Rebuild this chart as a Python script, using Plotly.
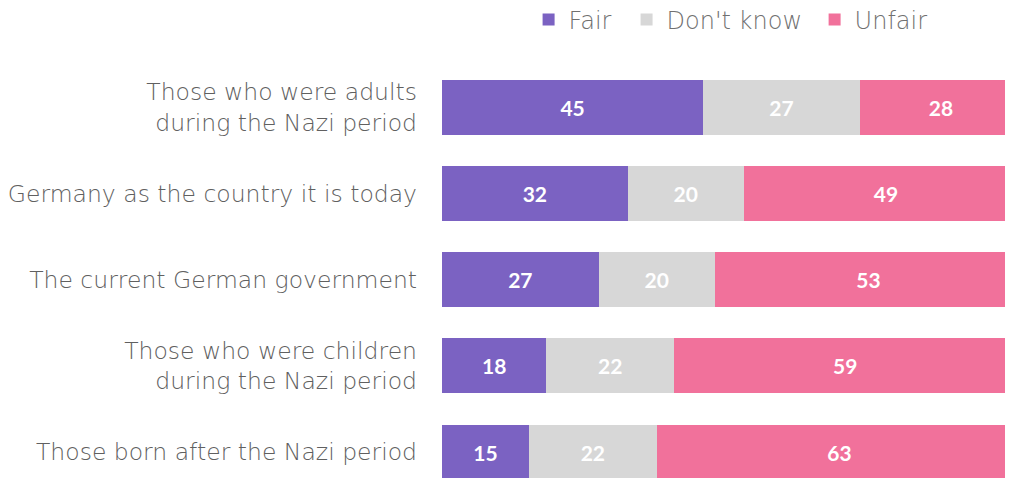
import plotly.graph_objects as go

categories = [
    "Those who were adults<br>during the Nazi period",
    "Germany as the country it is today",
    "The current German government",
    "Those who were children<br>during the Nazi period",
    "Those born after the Nazi period",
]
fair = [45, 32, 27, 18, 15]
dont_know = [27, 20, 20, 22, 22]
unfair = [28, 49, 53, 59, 63]

series = [
    ("Fair", fair, "#7B62C2", "legend", 0.518),
    ("Don't know", dont_know, "#D7D7D7", "legend2", 0.6155),
    ("Unfair", unfair, "#F1719B", "legend3", 0.8026),
]

LABEL_FONT = "DejaVu Sans"
W, H = 1005, 470

fig = go.Figure()
legends = {}
for name, vals, color, leg, lx in series:
    fig.add_trace(go.Bar(
        y=categories, x=vals, name=name, orientation="h",
        marker=dict(color=color, line=dict(width=0)),
        text=vals, textposition="inside", insidetextanchor="middle",
        textfont=dict(family="Lato", size=21, color="white", weight="bold"),
        constraintext="none", legend=leg,
    ))
    legends[leg] = dict(
        orientation="h", xref="container", yref="container",
        x=lx, xanchor="left", y=1 - 12 / H, yanchor="middle",
        font=dict(family=LABEL_FONT, size=24, color="#707070", weight=200),
        itemclick=False, bgcolor="rgba(0,0,0,0)",
    )

plot_h = H - 56
fig.update_layout(
    width=W, height=H,
    barmode="stack", bargap=0.36,
    margin=dict(l=434, r=0, t=56, b=0),
    paper_bgcolor="white", plot_bgcolor="white",
    showlegend=True,
    **legends,
    xaxis=dict(range=[0, 98.4], visible=False, fixedrange=True),
    yaxis=dict(
        categoryorder="array", categoryarray=categories,
        range=[-0.5 + plot_h / 86.25, -0.5], showgrid=False, showline=False, zeroline=False,
        ticks="", ticklabelstandoff=24,
        tickfont=dict(family=LABEL_FONT, size=23.5, color="#606060", weight=200),
        automargin=False,
    ),
)

fig.write_html("out.html")
